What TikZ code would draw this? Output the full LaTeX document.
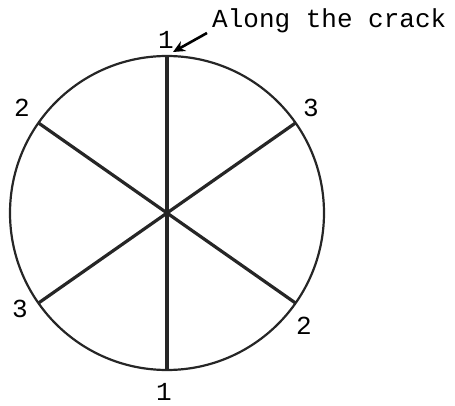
\documentclass[tikz,border=0pt]{standalone}
\usepackage{fontspec}
\setmonofont{Liberation Mono}
\usetikzlibrary{arrows.meta,calc}
\begin{document}
\begin{tikzpicture}[x=1pt,y=-1pt,
  rim/.style={line width=2.2pt,draw=black!85},
  spoke/.style={line width=3.2pt,draw=black!85},
  lbl/.style={font=\ttfamily\fontsize{26}{26}\selectfont,inner sep=0pt},
  note/.style={font=\ttfamily\fontsize{26}{26}\selectfont,inner sep=0pt,anchor=base west}]
\useasboundingbox (0,0) rectangle (455,406);
\coordinate (c) at (167,213);
\draw[rim] (c) circle (157);
\coordinate (p90) at (167,56);
\coordinate (p270) at (167,370);
\coordinate (p145) at ($(c)+(-128.6,-90.1)$);
\coordinate (p35) at ($(c)+(128.6,-90.1)$);
\coordinate (p215) at ($(c)+(-128.6,90.1)$);
\coordinate (p325) at ($(c)+(128.6,90.1)$);
\draw[spoke] (p90) -- (p270);
\draw[spoke] (p145) -- (p325);
\draw[spoke] (p35) -- (p215);
\node[lbl] (l1t) at (166,40) {1};
\node[lbl] (l1b) at (164,392) {1};
\node[lbl] (l2a) at (22,108) {2};
\node[lbl] (l2b) at (304,326) {2};
\node[lbl] (l3a) at (311,108) {3};
\node[lbl] (l3b) at (20,309) {3};
\node[note] (crack) at (212,28) {Along the crack};
\coordinate (tip) at (173,52);
\draw[line width=2.6pt,-{Stealth[length=12pt,width=11pt]}] (207,33) -- (tip);
\end{tikzpicture}
\end{document}
